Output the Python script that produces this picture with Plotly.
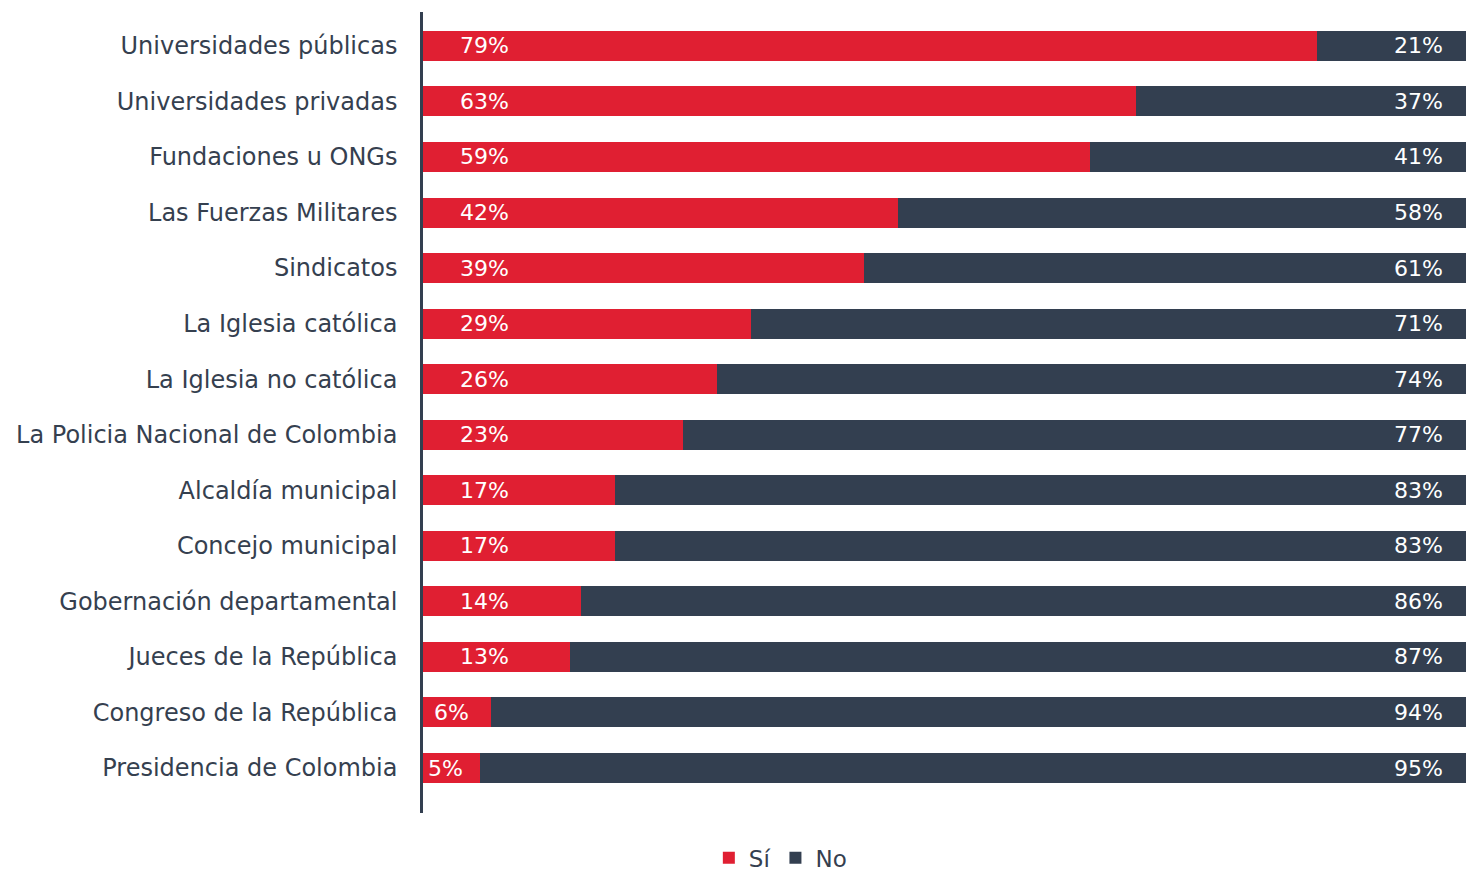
import plotly.graph_objects as go

categories = [
    "Universidades públicas", "Universidades privadas", "Fundaciones u ONGs",
    "Las Fuerzas Militares", "Sindicatos", "La Iglesia católica",
    "La Iglesia no católica", "La Policia Nacional de Colombia",
    "Alcaldía municipal", "Concejo municipal", "Gobernación departamental",
    "Jueces de la República", "Congreso de la República", "Presidencia de Colombia",
]
si_values = [79, 63, 59, 42, 39, 29, 26, 23, 17, 17, 14, 13, 6, 5]
no_values = [21, 37, 41, 58, 61, 71, 74, 77, 83, 83, 86, 87, 94, 95]

RED = "#E01F32"
DARK = "#333F50"
TEXT = "#35404F"
FONT = "DejaVu Sans"

fig = go.Figure()
fig.add_trace(go.Bar(y=categories, x=si_values, orientation="h", name="Sí",
                     marker=dict(color=RED, line=dict(width=0)), hoverinfo="x+y"))
fig.add_trace(go.Bar(y=categories, x=no_values, orientation="h", name="No",
                     marker=dict(color=DARK, line=dict(width=0)), hoverinfo="x+y"))

for cat, s, n in zip(categories, si_values, no_values):
    fig.add_annotation(x=min(s / 2 - 0.5, 5.4), y=cat, text=f"{s}%", showarrow=False,
                       xanchor="center", yanchor="middle",
                       font=dict(family=FONT, size=22, color="white"))
    fig.add_annotation(x=s + n - 12.0, y=cat, text=f"{n}%", showarrow=False,
                       xanchor="center", yanchor="middle",
                       font=dict(family=FONT, size=22, color="white"))

fig.update_layout(
    width=1466, height=880,
    barmode="stack", bargap=0.46,
    plot_bgcolor="white", paper_bgcolor="white",
    margin=dict(l=415, r=0, t=4, b=75),
    font=dict(family=FONT, size=23, color=TEXT),
    showlegend=True,
    legend=dict(orientation="h", x=0.34, xanchor="center", y=-0.056, yanchor="middle",
                font=dict(family=FONT, size=23, color=TEXT),
                traceorder="normal", itemwidth=30),
    xaxis=dict(range=[0, 92.9], showgrid=False, zeroline=False, showticklabels=False,
               showline=False, fixedrange=True),
    yaxis=dict(range=[13.81, -0.61], showgrid=False, zeroline=False,
               showline=True, linecolor=DARK, linewidth=2.5,
               ticks="", ticklabelstandoff=18,
               tickfont=dict(family=FONT, size=24, color=TEXT)),
)

fig.write_html("out.html")
